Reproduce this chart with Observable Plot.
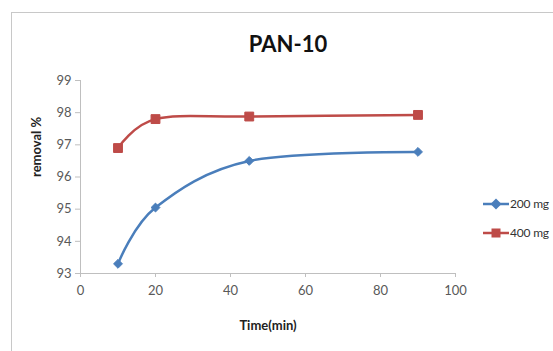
<!DOCTYPE html>
<html>
<head>
<meta charset="utf-8">
<script src="https://cdn.jsdelivr.net/npm/d3@7"></script>
<script src="https://cdn.jsdelivr.net/npm/@observablehq/plot@0.6"></script>
<style>
  html, body { margin: 0; padding: 0; background: #fff; }
  #wrap { position: relative; width: 553px; height: 351px; overflow: hidden; font-family: Lato, "Open Sans", sans-serif; }
  #frame { position: absolute; left: 11px; top: 12px; width: 560px; height: 360px; border: 1.5px solid #c8c8c8; box-sizing: border-box; }
  #title { position: absolute; left: 0; width: 576px; top: 30px; text-align: center; font-weight: bold; font-size: 22px; color: #111; }
  #legend { position: absolute; left: 483px; top: 189px; font-size: 12px; color: #333; white-space: nowrap; letter-spacing: -0.2px; }
  .item { display: flex; align-items: center; height: 29px; }
  .item svg { margin-right: 1px; }
  #chart { position: absolute; left: 0; top: 0; }
</style>
</head>
<body>
<div id="wrap">
  <div id="frame"></div>
  <div id="chart"></div>
  <div id="title">PAN-10</div>
  <div id="legend"></div>
</div>
<script>
const time = [10, 20, 45, 90];
const removal200 = [93.3, 95.05, 96.5, 96.78];
const removal400 = [96.9, 97.8, 97.88, 97.93];
const seriesNames = ["200 mg", "400 mg"];
const colors = ["#4a7ebb", "#be4b48"];
const xTicks = [0, 20, 40, 60, 80, 100];
const yTicks = [93, 94, 95, 96, 97, 98, 99];

const data = [];
time.forEach((t, i) => data.push({series: seriesNames[0], t, v: removal200[i]}));
time.forEach((t, i) => data.push({series: seriesNames[1], t, v: removal400[i]}));
const d200 = data.filter(d => d.series === seriesNames[0]);
const d400 = data.filter(d => d.series === seriesNames[1]);

const chart = Plot.plot({
  width: 553,
  height: 351,
  marginLeft: 80,
  marginRight: 98,
  marginTop: 80,
  marginBottom: 78,
  style: { fontFamily: "Lato, 'Open Sans', sans-serif", fontSize: "13px", color: "#595959", background: "transparent" },
  x: { domain: [0, 100], label: null },
  y: { domain: [93, 99], label: null },
  marks: [
    Plot.ruleX([0], { stroke: "#bfbfbf", strokeWidth: 1 }),
    Plot.ruleY([93], { stroke: "#bfbfbf", strokeWidth: 1 }),
    Plot.axisX({ ticks: xTicks, tickFormat: "d", tickSize: 4, tickPadding: 8, stroke: "#bfbfbf", fill: "#595959", fontSize: 13, label: null }),
    Plot.axisY({ ticks: yTicks, tickFormat: "d", tickSize: 5, tickPadding: 4, stroke: "#bfbfbf", fill: "#595959", fontSize: 13, label: null }),
    Plot.line(d200, { x: "t", y: "v", stroke: colors[0], strokeWidth: 2.5, curve: "cardinal", tension: 0 }),
    Plot.line(d400, { x: "t", y: "v", stroke: colors[1], strokeWidth: 2.5, curve: "cardinal", tension: 0 }),
    Plot.dot(d200, { x: "t", y: "v", symbol: "diamond2", r: 4, fill: colors[0], stroke: colors[0], strokeWidth: 1 }),
    Plot.dot(d400, { x: "t", y: "v", symbol: "square", r: 5, fill: colors[1], stroke: colors[1], strokeWidth: 1 }),
    Plot.text(["Time(min)"], { frameAnchor: "bottom", dy: 56, fontWeight: "bold", fontSize: 13, fill: "#222" }),
    Plot.text(["removal %"], { frameAnchor: "left", dx: -44, rotate: -90, fontWeight: "bold", fontSize: 13, fill: "#222" })
  ]
});
document.getElementById("chart").appendChild(chart);

const legend = document.getElementById("legend");
seriesNames.forEach((name, i) => {
  const item = document.createElement("div");
  item.className = "item";
  const sym = i === 0
    ? `<path d="M13,1.5 L18.5,7 L13,12.5 L7.5,7 Z" fill="${colors[0]}"/>`
    : `<rect x="8.5" y="2.5" width="9" height="9" fill="${colors[1]}"/>`;
  item.innerHTML = `<svg width="26" height="14"><line x1="0" y1="7" x2="26" y2="7" stroke="${colors[i]}" stroke-width="2.5"/>${sym}</svg><span>${name}</span>`;
  legend.appendChild(item);
});
</script>
</body>
</html>
